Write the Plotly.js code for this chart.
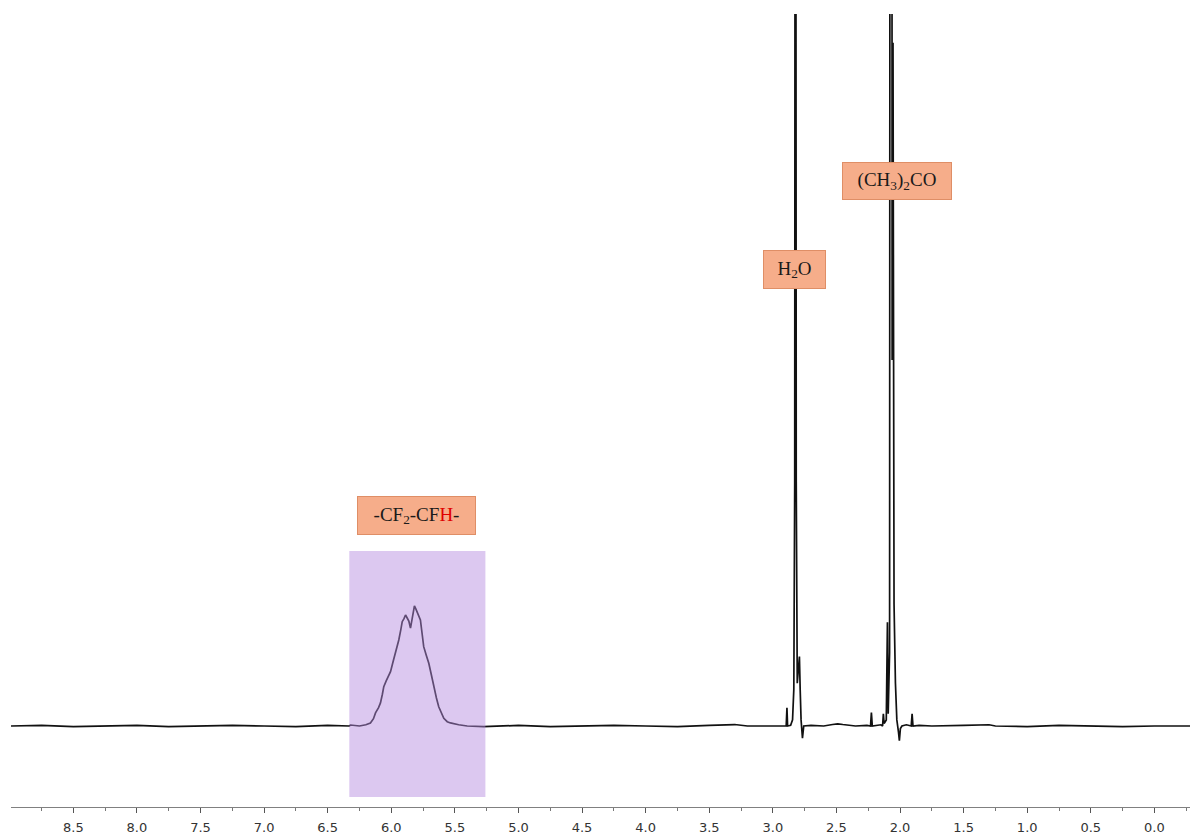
<!DOCTYPE html>
<html>
<head>
<meta charset="utf-8">
<script src="https://cdn.plot.ly/plotly-3.0.1.min.js"></script>
<style>html,body{margin:0;padding:0;background:#fff;}#chart{width:1190px;height:836px;}</style>
</head>
<body>
<div id="chart"></div>
<script>
// Chemical shift (ppm)
const ppm = [
  8.99, 8.75, 8.5, 8.25, 8.0, 7.75, 7.5, 7.25, 7.0, 6.75, 6.5, 6.33,
  6.32, 6.25, 6.2, 6.164, 6.14, 6.124, 6.10, 6.085, 6.07, 6.059, 6.04, 6.025, 6.006,
  5.985, 5.967, 5.955, 5.941, 5.925, 5.914, 5.90, 5.888, 5.875, 5.862, 5.849, 5.836,
  5.825, 5.818, 5.807, 5.797, 5.785, 5.771, 5.758, 5.745, 5.725, 5.705, 5.685, 5.667,
  5.645, 5.627, 5.605, 5.587, 5.56, 5.535, 5.47, 5.403, 5.275,
  5.0, 4.75, 4.5, 4.25, 4.0, 3.75, 3.5, 3.3, 3.2, 3.0, 2.92,
  2.895, 2.889, 2.884, 2.86, 2.845, 2.835, 2.828, 2.822, 2.816, 2.808, 2.798, 2.791,
  2.785, 2.778, 2.767, 2.757, 2.70, 2.6, 2.53, 2.49, 2.45, 2.35, 2.26,
  2.232, 2.225, 2.218, 2.15, 2.137, 2.131, 2.125, 2.108, 2.099, 2.093, 2.082, 2.070,
  2.062, 2.055, 2.047, 2.036, 2.025, 2.012, 2.005, 1.997, 1.985, 1.95, 1.912, 1.905,
  1.898, 1.85, 1.75, 1.5, 1.3, 1.25, 1.0, 0.75, 0.5, 0.25, 0.0, -0.28
];
// Intensity (relative, baseline = 0, CF2-CFH maximum ~ 1)
const intensity = [
  0.0, 0.005, -0.005, 0.0, 0.005, -0.005, 0.0, 0.005, 0.0, -0.005, 0.005, 0.0,
  0.008, 0.0, 0.01, 0.025, 0.06, 0.107, 0.15, 0.189, 0.26, 0.322, 0.37, 0.40, 0.445,
  0.53, 0.598, 0.64, 0.705, 0.79, 0.855, 0.88, 0.91, 0.885, 0.86, 0.803, 0.869,
  0.95, 0.984, 0.96, 0.937, 0.91, 0.869, 0.76, 0.65, 0.58, 0.514, 0.42, 0.322,
  0.23, 0.158, 0.10, 0.063, 0.035, 0.025, 0.01, 0.0, -0.006,
  0.005, -0.005, 0.0, 0.005, 0.0, -0.005, 0.005, 0.012, 0.0, 0.0, 0.005,
  0.0, 0.15, 0.0, 0.005, 0.05, 0.3, 2.0, 14, 2.0, 0.35, 0.45, 0.57,
  0.3, 0.05, -0.1, 0.0, 0.005, 0.0, 0.012, 0.018, 0.012, 0.0, 0.005,
  0.0, 0.11, 0.0, 0.01, 0.0, 0.1, 0.02, 0.05, 0.85, 0.1, 0.6, 30,
  3.0, 5.6, 1.0, 0.35, 0.05, -0.05, -0.12, -0.02, 0.0, 0.01, 0.0, 0.1,
  0.0, 0.005, 0.0, 0.005, 0.01, 0.0, -0.005, 0.005, 0.0, -0.005, 0.0, 0.0
];
// Tick values and labels
const tickValues = [8.5, 8.0, 7.5, 7.0, 6.5, 6.0, 5.5, 5.0, 4.5, 4.0, 3.5, 3.0, 2.5, 2.0, 1.5, 1.0, 0.5, 0.0];
const tickLabels = ["8.5", "8.0", "7.5", "7.0", "6.5", "6.0", "5.5", "5.0", "4.5", "4.0", "3.5", "3.0", "2.5", "2.0", "1.5", "1.0", "0.5", "0.0"];
// Peak labels
const labelTexts = [
  "-CF<sub>2</sub>-CF<span style='color:#e00000'>H</span>-",
  "H<sub>2</sub>O",
  "(CH<sub>3</sub>)<sub>2</sub>CO"
];
const labelPpm = [5.798, 2.826, 2.020];
const labelLevel = [1.725, 3.745, 4.47];
// Highlighted region of the CF2-CFH signal
const regionPpm = [6.33, 5.26];

const labelSizes = [[115, 35], [59, 35], [106, 34]];

const trace = {
  x: ppm, y: intensity, type: 'scatter', mode: 'lines',
  line: {color: '#111111', width: 1.7},
  hoverinfo: 'skip'
};

const annotations = labelTexts.map((t, i) => ({
  x: labelPpm[i], y: labelLevel[i], xref: 'x', yref: 'y',
  text: t, showarrow: false, xanchor: 'center', yanchor: 'middle',
  font: {family: 'Liberation Serif, Times New Roman, serif', size: 19, color: '#1a1a1a'},
  bgcolor: '#f6ad8a', bordercolor: '#df8e66', borderwidth: 1, borderpad: 1,
  width: labelSizes[i][0], height: labelSizes[i][1]
}));

const layout = {
  width: 1190, height: 836,
  margin: {l: 11, r: 0, t: 14, b: 29},
  paper_bgcolor: '#ffffff', plot_bgcolor: '#ffffff',
  showlegend: false,
  xaxis: {
    range: [8.99, -0.28], showgrid: false, zeroline: false,
    showline: true, linecolor: '#808080', linewidth: 1,
    tickmode: 'array', tickvals: tickValues, ticktext: tickLabels,
    ticks: 'outside', ticklen: 5, tickcolor: '#555555', tickwidth: 1,
    minor: {dtick: 0.25, tick0: 0, ticks: 'outside', ticklen: 3, tickcolor: '#777777', showgrid: false},
    tickfont: {family: 'DejaVu Sans, Verdana, sans-serif', size: 13, color: '#333333'},
    ticklabelstandoff: 3
  },
  yaxis: {
    range: [-0.664, 5.836], visible: false, showgrid: false, zeroline: false
  },
  shapes: [{
    type: 'rect', xref: 'x', yref: 'y', layer: 'above',
    x0: regionPpm[0], x1: regionPpm[1], y0: -0.582, y1: 1.434,
    fillcolor: 'rgb(181,138,223)', opacity: 0.47, line: {width: 0}
  }],
  annotations: annotations
};

Plotly.newPlot('chart', [trace], layout, {displayModeBar: false, staticPlot: true});
</script>
</body>
</html>
